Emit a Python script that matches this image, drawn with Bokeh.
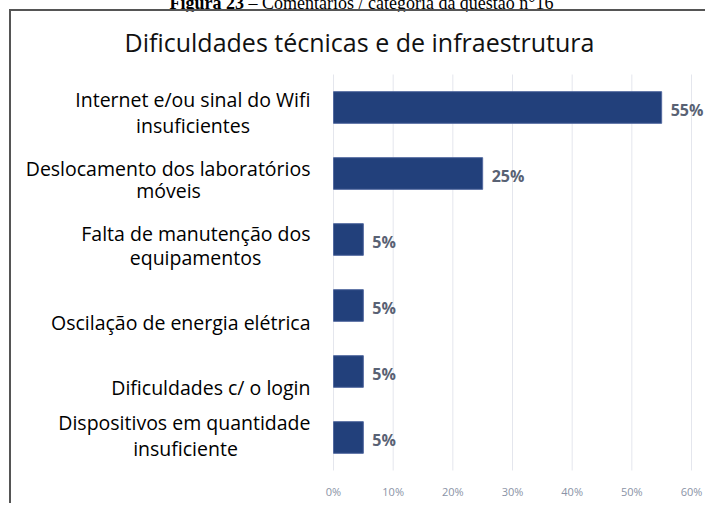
from bokeh.plotting import figure
from bokeh.models import ColumnDataSource, FixedTicker, Range1d, Div
from bokeh.layouts import column
from bokeh.embed import file_html
from bokeh.resources import INLINE
from bokeh.core.properties import value

caption = "<b>Figura 23</b> – Comentários / categoria da questão n°16"
title = "Dificuldades técnicas e de infraestrutura"
categories = [
    "Internet e/ou sinal do Wifi insuficientes",
    "Deslocamento dos laboratórios móveis",
    "Falta de manutenção dos equipamentos",
    "Oscilação de energia elétrica",
    "Dificuldades c/ o login",
    "Dispositivos em quantidade insuficiente",
]
label_line1 = ["Internet e/ou sinal do Wifi", "Deslocamento dos laboratórios",
               "Falta de manutenção dos", "Oscilação de energia elétrica",
               "Dificuldades c/ o login", "Dispositivos em quantidade"]
label_line2 = ["insuficientes", "móveis", "equipamentos", "", "", "insuficiente"]
values = [55, 25, 5, 5, 5, 5]
value_labels = ["55%", "25%", "5%", "5%", "5%", "5%"]
x_ticks = [0, 10, 20, 30, 40, 50, 60]
x_tick_labels = {t: f"{t}%" for t in x_ticks}

# ---------------- layout / style constants (pixels) ----------------
W, H = 696, 494                 # canvas size (placed at page 11,11 after border)
CANVAS_X0, CANVAS_Y0 = 11, 11
FRAME_TOP, FRAME_BOTTOM = 60, 475        # page y of plot frame
AXIS_X0, AXIS_X60 = 333, 691             # page x of 0% and 60%
ROW0_Y, ROW_STEP = 107, 66               # page y of first bar centre, row spacing
LABEL_GAP = 23                           # gap between label right edge and 0%
line1_width = [235, 284, 230, 258, 198, 250]  # approx width of first label line
line1_dy = [-8, -5, -6, 17, 16, -15]     # downward shift of label line 1 from bar centre
line2_dy = [18, 17, 18, 0, 0, 11]

ppx = (AXIS_X60 - AXIS_X0) / 60.0
x_start = (CANVAS_X0 - AXIS_X0) / ppx
x_end = (CANVAS_X0 + W - AXIS_X0) / ppx
y_top = (FRAME_TOP - ROW0_Y) / ROW_STEP
y_bottom = (FRAME_BOTTOM - ROW0_Y) / ROW_STEP

rows = list(range(len(categories)))
bars = ColumnDataSource(dict(y=rows, cat=categories, val=values, lab=value_labels))
l1 = ColumnDataSource(dict(y=rows, txt=label_line1, dy=line1_dy))
idx2 = [i for i, t in enumerate(label_line2) if t]
l2 = ColumnDataSource(dict(y=idx2, txt=[label_line2[i] for i in idx2],
                           dx=[-LABEL_GAP - line1_width[i] / 2 for i in idx2],
                           dy=[line2_dy[i] for i in idx2]))
grid = ColumnDataSource(dict(x=x_ticks, y0=[-0.5] * len(x_ticks),
                             y1=[len(categories) - 0.5] * len(x_ticks)))

p = figure(
    width=W, height=H,
    x_range=Range1d(x_start, x_end),
    y_range=Range1d(y_bottom, y_top),
    output_backend="svg", toolbar_location=None,
    y_axis_location=None,
    min_border_left=0, min_border_right=0,
    min_border_top=FRAME_TOP - CANVAS_Y0,
    min_border_bottom=CANVAS_Y0 + H - FRAME_BOTTOM,
    margin=(0, 0, 0, 9),
    title=title,
)
p.styles = {"border-top": "2px solid #555555", "border-left": "2px solid #555555"}
p.title.align = "center"
p.title.text_font = "Open Sans"
p.title.text_font_size = "25px"
p.title.text_font_style = "normal"
p.title.text_color = "#111111"
p.title.standoff = 3

p.outline_line_color = None
p.grid.grid_line_color = None

p.segment(x0="x", y0="y0", x1="x", y1="y1", source=grid,
          line_color="#e4e6ed", line_width=1)

p.hbar(y="y", left=0, right="val", height=0.48, source=bars,
       fill_color="#22407b", line_color="#52699f", line_width=1)

p.text(x="val", y="y", text="lab", source=bars, x_offset=9, y_offset=2,
       text_baseline="middle", text_font=value("Open Sans"),
       text_font_size="16px", text_font_style="bold", text_color="#596274")

common = dict(text_baseline="middle", text_font=value("Open Sans"),
              text_font_size="19.5px", text_color="#000000")
p.text(x=0, y="y", text="txt", source=l1, x_offset=-LABEL_GAP, y_offset="dy",
       text_align="right", **common)
p.text(x=0, y="y", text="txt", source=l2, x_offset="dx", y_offset="dy",
       text_align="center", **common)

p.xaxis.ticker = FixedTicker(ticks=x_ticks)
p.xaxis.major_label_overrides = x_tick_labels
p.xaxis.axis_line_color = None
p.xaxis.major_tick_line_color = None
p.xaxis.major_tick_out = 0
p.xaxis.major_tick_in = 0
p.xaxis.minor_tick_line_color = None
p.xaxis.major_label_standoff = 8
p.xaxis.major_label_text_font = "Open Sans"
p.xaxis.major_label_text_font_size = "11px"
p.xaxis.major_label_text_color = "#8a93a6"

cap = Div(text=caption, width=707, height=18, margin=(-9, 0, 0, 0),
          styles={"font-family": "Liberation Serif", "font-size": "18px",
                  "text-align": "center", "color": "#000000", "padding-left": "16px"})

layout = column(cap, p, spacing=0)

open("out.html", "w").write(file_html(layout, INLINE))
